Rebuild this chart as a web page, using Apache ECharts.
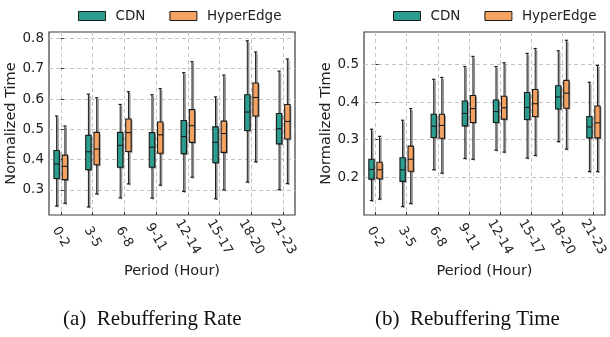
<!DOCTYPE html>
<html>
<head>
<meta charset="utf-8">
<script src="https://cdn.jsdelivr.net/npm/echarts@6/dist/echarts.min.js"></script>
<style>
  html, body { margin: 0; padding: 0; background: #fff; }
  #main { width: 610px; height: 337px; }
</style>
</head>
<body>
<div id="main"></div>
<script>
const periods = ["0-2", "3-5", "6-8", "9-11", "12-14", "15-17", "18-20", "21-23"];

// each row: [min, q1, median, q3, max]
const rateCdn = [
  [0.247, 0.338, 0.386, 0.430, 0.544],
  [0.244, 0.367, 0.426, 0.480, 0.616],
  [0.274, 0.375, 0.447, 0.490, 0.582],
  [0.273, 0.375, 0.441, 0.489, 0.614],
  [0.295, 0.420, 0.476, 0.529, 0.687],
  [0.271, 0.390, 0.457, 0.508, 0.607],
  [0.326, 0.496, 0.557, 0.614, 0.792],
  [0.301, 0.452, 0.502, 0.552, 0.692],
];
const rateHyper = [
  [0.256, 0.334, 0.378, 0.415, 0.511],
  [0.287, 0.383, 0.435, 0.490, 0.604],
  [0.320, 0.427, 0.489, 0.534, 0.624],
  [0.316, 0.421, 0.482, 0.524, 0.634],
  [0.342, 0.457, 0.512, 0.565, 0.723],
  [0.300, 0.424, 0.486, 0.527, 0.679],
  [0.393, 0.544, 0.605, 0.653, 0.755],
  [0.321, 0.468, 0.526, 0.582, 0.732],
];
const timeCdn = [
  [0.138, 0.195, 0.221, 0.248, 0.328],
  [0.122, 0.189, 0.220, 0.252, 0.352],
  [0.220, 0.306, 0.336, 0.368, 0.461],
  [0.250, 0.337, 0.370, 0.403, 0.495],
  [0.272, 0.346, 0.375, 0.406, 0.495],
  [0.251, 0.354, 0.386, 0.426, 0.530],
  [0.295, 0.382, 0.414, 0.444, 0.537],
  [0.215, 0.305, 0.334, 0.362, 0.453],
];
const timeHyper = [
  [0.142, 0.196, 0.220, 0.240, 0.309],
  [0.130, 0.216, 0.248, 0.283, 0.383],
  [0.211, 0.304, 0.338, 0.368, 0.466],
  [0.248, 0.346, 0.383, 0.418, 0.522],
  [0.267, 0.355, 0.385, 0.416, 0.505],
  [0.258, 0.362, 0.396, 0.434, 0.543],
  [0.275, 0.384, 0.424, 0.458, 0.565],
  [0.215, 0.305, 0.345, 0.390, 0.498],
];

const rateTicks = [0.3, 0.4, 0.5, 0.6, 0.7, 0.8];
const timeTicks = [0.2, 0.3, 0.4, 0.5];

const CDN_COLOR = "#2a9d8f";
const HYPER_COLOR = "#f4a261";
const FONT = "DejaVu Sans";
const periodIdx = periods.map((p, i) => i);

const chart = echarts.init(document.getElementById("main"));

function toData(rows) {
  return rows.map((r, i) => [i].concat(r));
}

// draws one box with a grey drop shadow, like the matplotlib original
function renderBox(offset) {
  return function (params, api) {
    const x = api.value(0) + offset;
    const pMin = api.coord([x, api.value(1)]);
    const pQ1 = api.coord([x, api.value(2)]);
    const pMed = api.coord([x, api.value(3)]);
    const pQ3 = api.coord([x, api.value(4)]);
    const pMax = api.coord([x, api.value(5)]);
    const bw = api.size([0.17, 0])[0];
    const cx = pMin[0];
    const half = bw / 2;
    const cap = bw * 0.3;
    const sh = 1.3;
    const grey = "#8f8f8f";
    return {
      type: "group",
      children: [
        { type: "line", shape: { x1: cx + sh, y1: pMax[1] + sh, x2: cx + sh, y2: pMin[1] + sh }, style: { stroke: grey, lineWidth: 1.6 } },
        { type: "rect", shape: { x: cx - half + sh, y: pQ3[1] + sh, width: bw, height: pQ1[1] - pQ3[1] }, style: { fill: grey } },
        { type: "line", shape: { x1: cx, y1: pMax[1], x2: cx, y2: pMin[1] }, style: { stroke: "#1a1a1a", lineWidth: 1 } },
        { type: "line", shape: { x1: cx - cap, y1: pMax[1], x2: cx + cap, y2: pMax[1] }, style: { stroke: "#1a1a1a", lineWidth: 1.2 } },
        { type: "line", shape: { x1: cx - cap, y1: pMin[1], x2: cx + cap, y2: pMin[1] }, style: { stroke: "#1a1a1a", lineWidth: 1.2 } },
        { type: "rect", shape: { x: cx - half, y: pQ3[1], width: bw, height: pQ1[1] - pQ3[1] }, style: { fill: api.visual("color"), stroke: "#1a1a1a", lineWidth: 1.1 } },
        { type: "line", shape: { x1: cx - half, y1: pMed[1], x2: cx + half, y2: pMed[1] }, style: { stroke: "#1a1a1a", lineWidth: 1.1 } },
      ],
    };
  };
}

function xAxisFor(gridIndex) {
  return {
    type: "value",
    gridIndex: gridIndex,
    min: -0.37,
    max: 7.37,
    name: "Period (Hour)",
    nameLocation: "middle",
    nameGap: 39,
    nameTextStyle: { fontFamily: FONT, fontSize: 14.5, color: "#222" },
    axisLine: { show: false },
    axisTick: { customValues: periodIdx, inside: true, length: 3, lineStyle: { color: "#333" } },
    axisLabel: {
      customValues: periodIdx,
      formatter: (v) => periods[Math.round(v)],
      rotate: -60,
      align: "center",
      verticalAlign: "middle",
      margin: 22,
      fontFamily: FONT,
      fontSize: 13,
      color: "#222",
    },
    splitLine: { show: true, lineStyle: { color: "#c4c4c4", type: [4, 3], width: 1 } },
  };
}

function yAxisFor(gridIndex, min, max, ticks) {
  return {
    type: "value",
    gridIndex: gridIndex,
    min: min,
    max: max,
    name: "Normalized Time",
    nameLocation: "middle",
    nameGap: 29,
    nameTextStyle: { fontFamily: FONT, fontSize: 14.5, color: "#222" },
    axisLine: { show: false },
    axisTick: { customValues: ticks, inside: true, length: 3, lineStyle: { color: "#333" } },
    axisLabel: {
      customValues: ticks,
      formatter: (v) => v.toFixed(1),
      margin: 5,
      fontFamily: FONT,
      fontSize: 13.5,
      color: "#222",
    },
    splitLine: { show: true, lineStyle: { color: "#c4c4c4", type: [4, 3], width: 1 } },
  };
}

function boxSeries(name, rows, color, offset, idx) {
  return {
    name: name,
    type: "custom",
    xAxisIndex: idx,
    yAxisIndex: idx,
    clip: false,
    itemStyle: { color: color, borderColor: "#1a1a1a", borderWidth: 1 },
    encode: { x: 0, y: [1, 2, 3, 4, 5] },
    renderItem: renderBox(offset),
    data: toData(rows),
  };
}

function legendFor(left) {
  return {
    left: left,
    top: 4,
    icon: "rect",
    itemWidth: 27,
    itemHeight: 9,
    itemGap: 24,
    textStyle: { fontFamily: FONT, fontSize: 13.5, color: "#222", padding: [0, 0, 0, 5] },
    data: [
      { name: "CDN", itemStyle: { color: CDN_COLOR, borderColor: "#1a1a1a", borderWidth: 1 } },
      { name: "HyperEdge", itemStyle: { color: HYPER_COLOR, borderColor: "#1a1a1a", borderWidth: 1 } },
    ],
  };
}

const captionStyle = { fontFamily: "Liberation Serif", fontSize: 21, fontWeight: "normal", color: "#111" };

const option = {
  animation: false,
  backgroundColor: "#fff",
  title: [
    { text: "(a)  Rebuffering Rate", left: 63, top: 309, padding: 0, textStyle: captionStyle },
    { text: "(b)  Rebuffering Time", left: 375, top: 309, padding: 0, textStyle: captionStyle },
  ],
  legend: [legendFor(73), legendFor(388)],
  grid: [
    { left: 49, top: 32, width: 246, height: 183, show: true, borderColor: "#3c3c3c", borderWidth: 1.2 },
    { left: 364, top: 32, width: 245, height: 183, show: true, borderColor: "#3c3c3c", borderWidth: 1.2 },
  ],
  xAxis: [xAxisFor(0), xAxisFor(1)],
  yAxis: [yAxisFor(0, 0.2175, 0.821, rateTicks), yAxisFor(1, 0.0995, 0.587, timeTicks)],
  series: [
    boxSeries("CDN", rateCdn, CDN_COLOR, -0.13, 0),
    boxSeries("HyperEdge", rateHyper, HYPER_COLOR, 0.13, 0),
    boxSeries("CDN", timeCdn, CDN_COLOR, -0.13, 1),
    boxSeries("HyperEdge", timeHyper, HYPER_COLOR, 0.13, 1),
  ],
};

chart.setOption(option);
</script>
</body>
</html>
